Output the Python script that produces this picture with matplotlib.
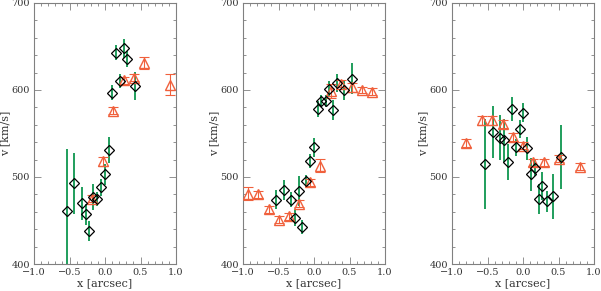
import matplotlib
matplotlib.use("Agg")
import matplotlib.pyplot as plt
from matplotlib.ticker import MultipleLocator

# ---- Panel 1 ----
p1_dx = [-0.54, -0.432, -0.33, -0.272, -0.22, -0.165, -0.108, -0.056, -0.005, 0.052,
         0.10, 0.155, 0.211, 0.268, 0.315, 0.427]
p1_dv = [461, 493, 470, 457, 438, 477, 475, 488, 503, 531,
         597, 643, 610, 648, 636, 605]
p1_de = [71, 35, 19, 12, 11, 15, 8, 10, 12, 15,
         9, 9, 8, 11, 9, 16]
p1_tx = [-0.187, -0.032, 0.117, 0.272, 0.404, 0.549, 0.92]
p1_tv = [475, 518, 576, 611, 614, 631, 606]
p1_te = [4, 5, 4, 4, 4, 7, 12]

# ---- Panel 2 ----
p2_dx = [-0.535, -0.427, -0.324, -0.268, -0.216, -0.164, -0.108, -0.052, 0.0, 0.052,
         0.103, 0.164, 0.216, 0.268, 0.324, 0.427, 0.539]
p2_dv = [474, 485, 474, 453, 484, 443, 495, 518, 534, 578,
         587, 587, 601, 577, 608, 600, 613]
p2_de = [11, 11, 9, 9, 17, 8, 7, 8, 11, 9,
         7, 7, 9, 12, 10, 12, 18]
p2_tx = [-0.93, -0.793, -0.638, -0.493, -0.356, -0.207, -0.052, 0.089, 0.244, 0.385,
         0.531, 0.676, 0.821]
p2_tv = [481, 480, 463, 451, 455, 469, 494, 513, 599, 607, 603, 600, 598]
p2_te = [7.5, 4, 4, 4, 4, 4, 4, 7.5, 8, 4, 5, 4, 4]

# ---- Panel 3 ----
p3_dx = [-0.535, -0.418, -0.32, -0.262, -0.212, -0.152, -0.10, -0.048, 0.004, 0.06,
         0.108, 0.165, 0.225, 0.265, 0.334, 0.427, 0.537]
p3_dv = [515, 552, 545, 542, 517, 578, 534, 555, 574, 533,
         503, 510, 475, 490, 472, 478, 523]
p3_de = [52, 30, 26, 25, 21, 14, 10, 10, 11, 13,
         19, 9, 17, 16, 12, 26, 37]
p3_tx = [-0.807, -0.58, -0.43, -0.286, -0.145, 0.0, 0.146, 0.29, 0.51, 0.80]
p3_tv = [539, 565, 565, 561, 546, 536, 517, 517, 521, 512]
p3_te = [5, 5, 5, 5, 5, 4, 4, 4, 4, 4]

panels = [
    (p1_dx, p1_dv, p1_de, p1_tx, p1_tv, p1_te),
    (p2_dx, p2_dv, p2_de, p2_tx, p2_tv, p2_te),
    (p3_dx, p3_dv, p3_de, p3_tx, p3_tv, p3_te),
]

xticks = [-1.0, -0.5, 0.0, 0.5, 1.0]
xticklabels = ["\u22121.0", "\u22120.5", "0.0", "0.5", "1.0"]
yticks = [400, 500, 600, 700]

plt.rcParams['font.family'] = ['DejaVu Serif']

fig = plt.figure(figsize=(6.01, 2.91), dpi=100)
W, H = 601, 291
lefts = [34, 243, 452]
aw = 142
top_px, bot_px = 3, 264

green = '#1f9e5c'
orange = '#f0603c'
frame = '#808080'
txt = '#333333'

for (dx, dv, de, tx, tv, te), lp in zip(panels, lefts):
    ax = fig.add_axes([lp / W, 1 - bot_px / H, aw / W, (bot_px - top_px) / H])
    ax.errorbar(dx, dv, yerr=de, fmt='none', ecolor=green, elinewidth=1.4, zorder=2)
    ax.plot(dx, dv, linestyle='none', marker='D', markersize=5.0,
            markerfacecolor='none', markeredgecolor='black', markeredgewidth=0.9, zorder=4)
    ax.errorbar(tx, tv, yerr=te, fmt='none', ecolor=orange, elinewidth=0.8,
                capsize=3.5, capthick=0.8, zorder=3)
    ax.plot(tx, tv, linestyle='none', marker='^', markersize=6.5,
            markerfacecolor='none', markeredgecolor=orange, markeredgewidth=1.0, zorder=3)
    ax.set_xlim(-1.0, 1.0)
    ax.set_ylim(400, 700)
    ax.set_xticks(xticks)
    ax.set_xticklabels(xticklabels)
    ax.set_yticks(yticks)
    ax.xaxis.set_minor_locator(MultipleLocator(0.1))
    ax.yaxis.set_minor_locator(MultipleLocator(20))
    ax.tick_params(which='both', direction='in', top=True, right=True,
                   colors=frame, labelcolor=txt, labelsize=7, width=0.6)
    ax.tick_params(which='major', length=5, pad=3)
    ax.tick_params(which='minor', length=2.5)
    for s in ax.spines.values():
        s.set_color(frame)
        s.set_linewidth(0.8)
    ax.set_xlabel('x [arcsec]', fontsize=8, color=txt, labelpad=1)
    ax.set_ylabel('v [km/s]', fontsize=8, color=txt)
    ax.yaxis.set_label_coords(-0.17, 0.5)

fig.savefig('out.png', dpi=100)
